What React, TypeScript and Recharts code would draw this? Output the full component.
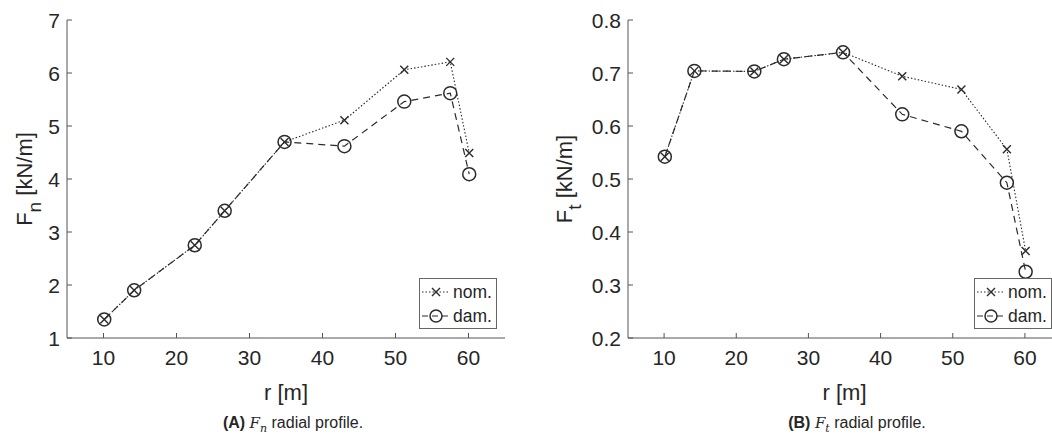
import React from "react";
import { LineChart, Line, XAxis, YAxis, Legend } from "recharts";

// radial stations [m]
const radius = [10.1, 14.2, 22.5, 26.6, 34.8, 43.0, 51.2, 57.5, 60.1];
// normal force per unit length [kN/m]
const fnNominal = [1.35, 1.9, 2.75, 3.4, 4.7, 5.11, 6.06, 6.21, 4.49];
const fnDamaged = [1.35, 1.9, 2.75, 3.4, 4.7, 4.62, 5.46, 5.62, 4.09];
// tangential force per unit length [kN/m]
const ftNominal = [0.542, 0.704, 0.703, 0.726, 0.739, 0.694, 0.669, 0.556, 0.364];
const ftDamaged = [0.542, 0.704, 0.703, 0.726, 0.739, 0.622, 0.59, 0.493, 0.325];

const rTicks = [10, 20, 30, 40, 50, 60];
const fnTicks = [1, 2, 3, 4, 5, 6, 7];
const ftTicks = [0.2, 0.3, 0.4, 0.5, 0.6, 0.7, 0.8];
const seriesNames = ["nom.", "dam."];

const AXIS = "#555";
const TEXT = "#262626";
const LINE = "#2b2b2b";
const SANS = "'Liberation Sans', Arial, Helvetica, sans-serif";

const fnData = radius.map((r, i) => ({ r, nom: fnNominal[i], dam: fnDamaged[i] }));
const ftData = radius.map((r, i) => ({ r, nom: ftNominal[i], dam: ftDamaged[i] }));

const XMark = ({ cx, cy, s = 4 }: any) => (
  <path d={`M${cx - s},${cy - s}L${cx + s},${cy + s}M${cx - s},${cy + s}L${cx + s},${cy - s}`} stroke={LINE} strokeWidth={1.4} fill="none" />
);
const OMark = ({ cx, cy, r = 6.5 }: any) => (
  <circle cx={cx} cy={cy} r={r} stroke={LINE} strokeWidth={1.5} fill="none" />
);

const XTick = (props: any) => {
  const { x, y, payload } = props;
  return (
    <g>
      <line x1={x} y1={y} x2={x} y2={y - 5} stroke={AXIS} />
      <text x={x} y={y + 27} textAnchor="middle" fill={TEXT} fontSize={21} fontFamily={SANS}>{payload.value}</text>
    </g>
  );
};

const YTick = (props: any) => {
  const { x, y, payload, fmt } = props;
  return (
    <g>
      <line x1={x} y1={y} x2={x + 5} y2={y} stroke={AXIS} />
      <text x={x - 7} y={y + 7.5} textAnchor="end" fill={TEXT} fontSize={21} fontFamily={SANS}>{fmt(payload.value)}</text>
    </g>
  );
};

const YLabel = ({ viewBox, sub }: any) => {
  const cy = viewBox.y + viewBox.height / 2;
  const x = viewBox.x + 32;
  return (
    <text transform={`translate(${x},${cy}) rotate(-90)`} textAnchor="middle" fontSize={22} fill={TEXT} fontFamily={SANS}>
      F<tspan dy={9} fontSize={19}>{sub}</tspan><tspan dy={-9}> [kN/m]</tspan>
    </text>
  );
};

const XLabel = ({ viewBox }: any) => (
  <text x={viewBox.x + viewBox.width / 2} y={viewBox.y + 62} textAnchor="middle" fontSize={22} fill={TEXT} fontFamily={SANS}>r [m]</text>
);

const LegendBox = ({ payload }: any) => {
  const items = [...(payload || [])].sort((a: any, b: any) => seriesNames.indexOf(a.value) - seriesNames.indexOf(b.value));
  return (
    <div style={{ border: "1px solid #666", background: "#fff", width: 78, height: 51, boxSizing: "border-box", padding: "1px 0 0 1px", fontFamily: SANS, fontSize: 17.5, color: TEXT }}>
      {items.map((p: any) => (
        <div key={p.value} style={{ display: "flex", alignItems: "center", height: 24 }}>
          <svg width={30} height={16} style={{ marginRight: 2 }}>
            <line x1={1} y1={8} x2={29} y2={8} stroke={LINE} strokeWidth={1.2} strokeDasharray={p.dataKey === "nom" ? "1.5 2" : "6 4"} />
            {p.dataKey === "nom" ? <XMark cx={15} cy={8} /> : <OMark cx={15} cy={8} r={6} />}
          </svg>
          <span>{p.value}</span>
        </div>
      ))}
    </div>
  );
};

function Panel({ data, domain, ticks, fmt, sub, width, yWidth, legendLeft }: any) {
  return (
    <LineChart width={width} height={439} data={data} margin={{ top: 20, right: 0, bottom: 0, left: 0 }}>
      <XAxis
        dataKey="r" type="number" domain={[5, 65]} ticks={rTicks} allowDataOverflow
        height={101} tickSize={0} tickMargin={0} tickLine={false} axisLine={{ stroke: AXIS }}
        tick={<XTick />} label={<XLabel />}
      />
      <YAxis
        type="number" domain={domain} ticks={ticks} allowDataOverflow
        width={yWidth} tickSize={0} tickMargin={0} tickLine={false} axisLine={{ stroke: AXIS }}
        tick={<YTick fmt={fmt} />} label={<YLabel sub={sub} />}
      />
      <Line
        dataKey="nom" name={seriesNames[0]} stroke={LINE} strokeWidth={1.1} strokeDasharray="1.5 2"
        isAnimationActive={false} dot={(p: any) => <XMark key={`x${p.index}`} cx={p.cx} cy={p.cy} />}
      />
      <Line
        dataKey="dam" name={seriesNames[1]} stroke={LINE} strokeWidth={1.2} strokeDasharray="7 5"
        isAnimationActive={false} dot={(p: any) => <OMark key={`o${p.index}`} cx={p.cx} cy={p.cy} />}
      />
      <Legend
        layout="vertical" align="center" verticalAlign="middle"
        wrapperStyle={{ left: legendLeft, top: 278, width: 78, height: 51 }}
        content={<LegendBox />}
      />
    </LineChart>
  );
}

const capStyle: React.CSSProperties = {
  position: "absolute", top: 414, width: 240, textAlign: "center",
  fontFamily: "'Liberation Sans Narrow', 'Liberation Sans', Arial, sans-serif", fontSize: 16, color: TEXT,
};
const mathStyle: React.CSSProperties = { fontFamily: "'DejaVu Serif', 'Liberation Serif', serif", fontStyle: "italic", fontSize: 15 };

export default function App() {
  return (
    <div style={{ position: "absolute", left: 0, top: 0, width: 1052, height: 439, overflow: "hidden", background: "#fff" }}>
      <div style={{ position: "absolute", left: 0, top: 0 }}>
        <Panel data={fnData} domain={[1, 7]} ticks={fnTicks} fmt={(v: number) => String(v)} sub="n" width={505} yWidth={67} legendLeft={419} />
      </div>
      <div style={{ position: "absolute", left: 540, top: 0 }}>
        <Panel data={ftData} domain={[0.2, 0.8]} ticks={ftTicks} fmt={(v: number) => v.toFixed(1)} sub="t" width={521} yWidth={88} legendLeft={434} />
      </div>
      <div style={{ ...capStyle, left: 173 }}>
        <b>(A)</b> <span style={mathStyle}>F</span><sub style={{ ...mathStyle, fontSize: 11 }}>n</sub> radial profile.
      </div>
      <div style={{ ...capStyle, left: 737 }}>
        <b>(B)</b> <span style={mathStyle}>F</span><sub style={{ ...mathStyle, fontSize: 11 }}>t</sub> radial profile.
      </div>
    </div>
  );
}
